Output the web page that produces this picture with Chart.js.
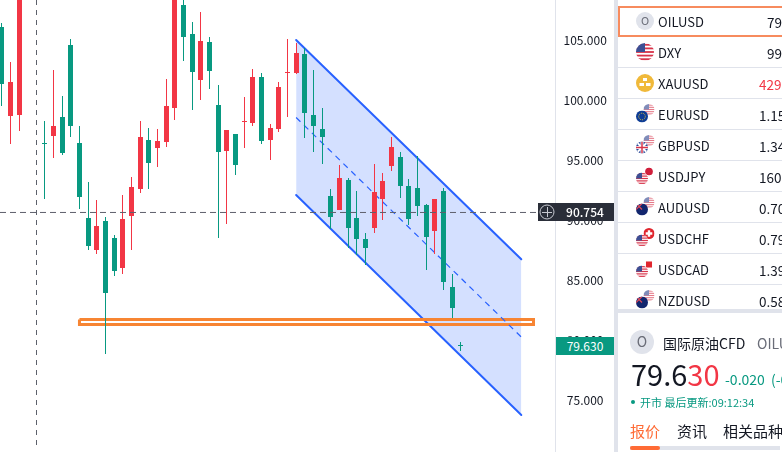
<!DOCTYPE html>
<html>
<head>
<meta charset="utf-8">
<script src="https://cdn.jsdelivr.net/npm/chart.js@4"></script>
<style>
html, body { margin: 0; padding: 0; background: #fff; }
body { width: 782px; height: 452px; overflow: hidden; position: relative; font-family: "Noto Sans CJK SC", "Noto Sans", sans-serif; color: #131722; }
#chartBox { position: absolute; left: 0; top: 0; width: 614px; height: 452px; }
.tag { position: absolute; color: #fff; font-size: 12px; text-align: center; }
#crossTag { left: 538px; top: 203px; width: 76px; height: 18px; line-height: 18px; background: #2a2e39; font-weight: 500; }
#crossTag span { position: absolute; left: 17px; width: 60px; }
#crossTag svg { position: absolute; left: 1px; top: 1px; }
#lastTag { left: 556px; top: 337px; width: 58px; height: 18px; line-height: 18px; background: #089981; }
#side { position: absolute; left: 614px; top: 0; width: 168px; height: 452px; overflow: hidden; border-left: 4px solid #e0e3eb; box-sizing: border-box; }
.row { position: absolute; left: 0; width: 170px; height: 30px; border-bottom: 1px solid #e0e3eb; overflow: hidden; }
.row svg { position: absolute; left: 14px; top: 0; }
.sym { position: absolute; left: 40px; top: 1px; line-height: 30px; font-size: 13px; }
.val { position: absolute; top: 1px; line-height: 30px; font-size: 13.5px; white-space: nowrap; }
#active { position: absolute; left: 0; top: 6px; width: 166px; height: 27px; border: 2px solid #f78b5e; }
#gap { position: absolute; left: 0; top: 309px; width: 168px; height: 4px; background: #e0e3eb; }
.abs { position: absolute; white-space: nowrap; }
</style>
</head>
<body>
<div id="chartBox"><canvas id="klineChart"></canvas></div>
<div class="tag" id="crossTag">
  <svg width="16" height="16"><circle cx="8" cy="8" r="7" fill="none" stroke="#c6c8d0" stroke-width="1"/><path d="M3 8.5H13M8.5 3V13" stroke="#c6c8d0" stroke-width="1"/></svg>
  <span>90.754</span>
</div>
<div class="tag" id="lastTag">79.630</div>
<div id="side"></div>
<script>
const opens  = [106.13,98.71,98.79,null,null,96.46,97.04,98.63,104.63,96.46,90.21,87.54,89.96,88.54,86.04,90.38,92.63,96.71,96.04,96.54,99.38,107.96,105.54,101.71,104.88,99.63,95.79,97.21,98.21,98.13,101.96,96.71,97.63,102.29,102.29,103.88,98.79,97.63,92.04,90.88,93.38,90.21,88.46,89.38,91.79,94.54,95.29,92.88,92.71,91.29,89.13,92.46,84.46,79.65];
const closes = [101.40,101.54,110.04,null,null,96.38,97.88,95.63,97.88,91.96,87.88,89.54,83.98,85.79,90.13,92.79,96.96,94.79,96.63,99.54,110.46,105.29,102.38,104.96,102.46,95.71,97.54,94.63,98.29,101.96,96.63,97.71,101.13,102.38,103.96,98.96,97.88,96.96,90.29,93.54,89.38,88.46,87.71,92.38,93.29,96.13,92.88,90.13,91.21,88.63,91.79,84.88,82.71,79.58];
const highs  = [106.46,103.21,110.88,null,null,98.29,102.54,100.38,105.13,97.88,93.21,91.71,90.29,88.79,92.13,93.63,98.29,97.71,97.63,101.79,111.71,109.21,106.54,107.38,105.29,101.29,97.54,97.21,100.29,102.63,102.29,98.04,101.54,105.13,104.79,104.38,102.54,99.38,92.63,94.63,93.54,92.46,88.96,94.71,93.96,96.96,95.71,93.46,95.38,91.38,91.79,92.71,85.54,79.88];
const lows   = [99.54,96.38,97.46,null,null,91.79,95.21,95.46,96.96,90.96,87.54,87.21,78.88,85.38,85.54,87.54,92.29,92.63,94.46,96.13,98.38,103.29,99.21,100.04,100.96,88.54,89.71,93.79,96.04,97.88,96.38,95.04,97.38,98.63,102.21,96.88,95.71,94.71,89.29,90.88,87.71,87.13,86.29,88.96,90.04,94.13,91.88,89.63,90.38,85.88,87.21,84.21,81.88,79.13];
const priceTicks = [105, 100, 95, 90, 85, 80, 75];

const channelX = [34, 60];
const channelTop = [105.04, 86.77];
const channelMid = [98.58, 80.29];
const channelBottom = [92.13, 73.79];

const zoneX = [8.98, 61.41];
const zoneY = [81.75, 81.33];

const crossX = 4.02;
const crossY = 90.67;

const symbols = ['OILUSD', 'DXY', 'XAUUSD', 'EURUSD', 'GBPUSD', 'USDJPY', 'AUDUSD', 'USDCHF', 'USDCAD', 'NZDUSD'];
const quotes = ['79.630', '99.145', '4293.5', '1.1532', '1.3421', '160.12', '0.7043', '0.7921', '1.3956', '0.5812'];
const quoteLeft = [149, 149, 141, 141, 141, 141, 141, 141, 141, 141];
const quoteColors = ['#131722', '#131722', '#f23645', '#131722', '#131722', '#131722', '#131722', '#131722', '#131722', '#131722'];
const icons = [['oil'], ['us'], ['gold'], ['eu', 'us'], ['gb', 'us'], ['us', 'jp'], ['au', 'us'], ['us', 'ch'], ['us', 'ca'], ['au', 'us']];

const UP = '#f23645';
const DOWN = '#089981';

const wickData = [], bodyData = [], bodyColors = [];
opens.forEach((o, i) => {
    if (o === null) return;
    wickData.push({ x: i, y: [lows[i], highs[i]] });
    bodyData.push({ x: i, y: [o, closes[i]] });
    bodyColors.push(closes[i] > o ? UP : DOWN);
});

// candles sit on whole pixels, like the original
const snapBars = {
    id: 'snapBars',
    beforeDatasetsDraw(chart) {
        chart.data.datasets.forEach((ds, n) => {
            if (ds.type !== 'bar') return;
            chart.getDatasetMeta(n).data.forEach(el => {
                el.x = Math.floor(el.x) + 0.5;
                el.y = Math.round(el.y);
                el.base = Math.round(el.base);
                if (el.y === el.base) el.base = el.y + 1;
            });
        });
    }
};

const line = (x, y) => x.map((v, i) => ({ x: v, y: y[i] }));

new Chart(document.getElementById('klineChart').getContext('2d'), {
    data: {
        datasets: [
            {
                type: 'line', order: 9, data: line(channelX, channelTop),
                borderColor: '#2962ff', borderWidth: 2, pointRadius: 0, borderCapStyle: 'round',
                fill: '+1', backgroundColor: 'rgba(41, 98, 255, 0.2)'
            },
            {
                type: 'line', order: 9, data: line(channelX, channelBottom),
                borderColor: '#2962ff', borderWidth: 2, pointRadius: 0, borderCapStyle: 'round', fill: false
            },
            {
                type: 'line', order: 8, showLine: true, tension: 0, pointRadius: 0,
                data: [
                    { x: zoneX[0], y: zoneY[0] }, { x: zoneX[1], y: zoneY[0] },
                    { x: zoneX[1], y: zoneY[1] }, { x: zoneX[0], y: zoneY[1] }, { x: zoneX[0], y: zoneY[0] }
                ],
                borderColor: '#f78533', borderWidth: 3, borderJoinStyle: 'miter',
                fill: { target: { value: zoneY[1] } }, backgroundColor: '#fff'
            },
            {
                type: 'line', order: 7, data: line(channelX, channelMid),
                borderColor: '#2962ff', borderWidth: 1.2, borderDash: [6, 5], pointRadius: 0, fill: false
            },
            {
                type: 'bar', order: 6, data: wickData, backgroundColor: bodyColors,
                barThickness: 1, grouped: false, inflateAmount: 0
            },
            {
                type: 'bar', order: 5, data: bodyData, backgroundColor: bodyColors,
                barThickness: 5, grouped: false, inflateAmount: 0
            },
            {
                type: 'line', order: 1, data: [{ x: -0.196, y: crossY }, { x: 61.9, y: crossY }],
                borderColor: '#5d606b', borderWidth: 1, borderDash: [6, 4], pointRadius: 0, fill: false
            },
            {
                type: 'line', order: 1, data: [{ x: crossX, y: 108.375 }, { x: crossX, y: 71.1 }],
                borderColor: '#5d606b', borderWidth: 1, borderDash: [5, 5], pointRadius: 0, fill: false
            }
        ]
    },
    options: {
        responsive: true,
        maintainAspectRatio: false,
        animation: false,
        layout: { padding: 0 },
        plugins: { legend: { display: false }, tooltip: { enabled: false } },
        scales: {
            x: { type: 'linear', display: false, offset: false, min: -0.196, max: 63.95 },
            y: {
                position: 'right',
                min: 70.708,
                max: 108.375,
                afterBuildTicks: scale => { scale.ticks = priceTicks.map(v => ({ value: v })); },
                afterFit: scale => { scale.width = 58.5; scale.paddingTop = 0; scale.paddingBottom = 0; },
                grid: { display: false, drawTicks: false },
                border: { color: '#e0e3eb' },
                ticks: {
                    color: '#131722',
                    padding: 8,
                    crossAlign: 'center',
                    font: { family: '"Noto Sans CJK SC"', size: 12 },
                    callback: v => v.toFixed(3)
                }
            }
        }
    },
    plugins: [snapBars]
});

// side panel
let clipId = 0;
function flag(kind, cx, cy, r, alpha) {
    const id = 'c' + (clipId++);
    const x = cx - r, y = cy - r, d = 2 * r;
    let art = '';
    if (kind === 'us') {
        art = `<rect x="${x}" y="${y}" width="${d}" height="${d}" fill="#fff"/>`;
        for (let s = 0; s < 5; s++) art += `<rect x="${x}" y="${y + s * d / 5 + d / 20}" width="${d}" height="${d / 10}" fill="#d8344a"/>`;
        art += `<rect x="${x}" y="${y}" width="${r}" height="${r}" fill="#3c4f94"/>`;
    } else if (kind === 'eu') {
        art = `<rect x="${x}" y="${y}" width="${d}" height="${d}" fill="#0e3d96"/><circle cx="${cx}" cy="${cy}" r="${r * 0.55}" fill="none" stroke="#e6c53c" stroke-width="1" stroke-dasharray="1 1"/>`;
    } else if (kind === 'gb') {
        art = `<rect x="${x}" y="${y}" width="${d}" height="${d}" fill="#2a4a9a"/><path d="M${x} ${y}L${x + d} ${y + d}M${x + d} ${y}L${x} ${y + d}" stroke="#fff" stroke-width="2"/><path d="M${cx} ${y}V${y + d}M${x} ${cy}H${x + d}" stroke="#fff" stroke-width="3"/><path d="M${cx} ${y}V${y + d}M${x} ${cy}H${x + d}" stroke="#d8344a" stroke-width="1.5"/>`;
    } else if (kind === 'jp') {
        art = `<rect x="${x}" y="${y}" width="${d}" height="${d}" fill="#fff"/><circle cx="${cx}" cy="${cy}" r="${r * 0.7}" fill="#d01f3c"/>`;
    } else if (kind === 'au') {
        art = `<rect x="${x}" y="${y}" width="${d}" height="${d}" fill="#12266e"/><path d="M${x} ${y}L${cx} ${cy}M${cx} ${y}L${x} ${cy}" stroke="#e04a5a" stroke-width="1.2"/>`;
    } else if (kind === 'ch') {
        art = `<rect x="${x}" y="${y}" width="${d}" height="${d}" fill="#e0262e"/><path d="M${cx} ${cy - r * 0.6}V${cy + r * 0.6}M${cx - r * 0.6} ${cy}H${cx + r * 0.6}" stroke="#fff" stroke-width="2.4"/>`;
    } else if (kind === 'ca') {
        art = `<rect x="${x}" y="${y}" width="${d}" height="${d}" fill="#fff"/><rect x="${cx - r * 0.55}" y="${cy - r * 0.55}" width="${r * 1.1}" height="${r * 1.1}" fill="#e0262e"/>`;
    }
    return `<clipPath id="${id}"><circle cx="${cx}" cy="${cy}" r="${r}"/></clipPath><g clip-path="url(#${id})" opacity="${alpha}">${art}</g>`;
}
function iconSvg(kinds) {
    let art = '';
    if (kinds[0] === 'oil') {
        art = '<circle cx="13" cy="15" r="9" fill="#e0e3eb"/><text x="13" y="19" text-anchor="middle" font-size="11" fill="#6a6d78">O</text>';
    } else if (kinds[0] === 'gold') {
        art = '<circle cx="13" cy="15" r="9" fill="#f0b93a"/><path d="M11 10h4v3h-4zM7.5 15h4.5v3H7.5zM14 15h4.5v3H14z" fill="#fff"/>';
    } else if (kinds.length === 1) {
        art = flag(kinds[0], 13, 15, 9, 1);
    } else {
        art = flag(kinds[1], 17, 10.5, 5.5, kinds[1] === 'us' ? 0.65 : 1) + flag(kinds[0], 10, 17.5, 6, 1);
    }
    return `<svg width="26" height="30">${art}</svg>`;
}

const side = document.getElementById('side');
let html = '';
symbols.forEach((s, i) => {
    const top = i === 0 ? 6 : 37 + (i - 1) * 31;
    const border = i === symbols.length - 1 || i === 0 ? 'border-bottom:0;' : '';
    html += `<div class="row" style="top:${top}px;${border}">${iconSvg(icons[i])}<span class="sym">${s}</span><span class="val" style="left:${quoteLeft[i]}px;color:${quoteColors[i]}">${quotes[i]}</span></div>`;
});
html += '<div id="active"></div><div id="gap"></div>';

const green = '#089981';
html += `<svg class="abs" style="left:12px;top:330px" width="24" height="24"><circle cx="12" cy="12" r="12" fill="#e0e3eb"/><text x="12" y="17" text-anchor="middle" font-size="14" fill="#6a6d78">O</text></svg>`;
html += `<span class="abs" style="left:45px;top:332px;font-size:14px;line-height:22px">国际原油CFD</span>`;
html += `<span class="abs" style="left:139px;top:332px;font-size:14px;line-height:22px;color:#6a6d78">OILUSD</span>`;
html += `<span class="abs" style="left:13px;top:354px;font-size:29px;line-height:38px">79.6<span style="color:#f23645">30</span></span>`;
html += `<span class="abs" style="left:107px;top:369px;font-size:14px;line-height:20px;word-spacing:3px;color:${green}">-0.020 (-0.03%)</span>`;
html += `<span class="abs" style="left:13px;top:400px;width:4px;height:4px;border-radius:2px;background:${green}"></span>`;
html += `<span class="abs" style="left:22px;top:394px;font-size:11px;line-height:16px;color:${green}">开市 最后更新:09:12:34</span>`;
html += `<span class="abs" style="left:12px;top:420px;font-size:15px;line-height:22px;color:#ff6b35">报价</span>`;
html += `<span class="abs" style="left:59px;top:420px;font-size:15px;line-height:22px">资讯</span>`;
html += `<span class="abs" style="left:105px;top:420px;font-size:15px;line-height:22px">相关品种</span>`;
html += `<span class="abs" style="left:12px;top:446px;width:150px;height:4px;background:#e0e3eb"></span>`;
html += `<span class="abs" style="left:12px;top:446px;width:30px;height:4px;border-radius:2px;background:#ff6b35"></span>`;
side.innerHTML = html;
</script>
</body>
</html>
